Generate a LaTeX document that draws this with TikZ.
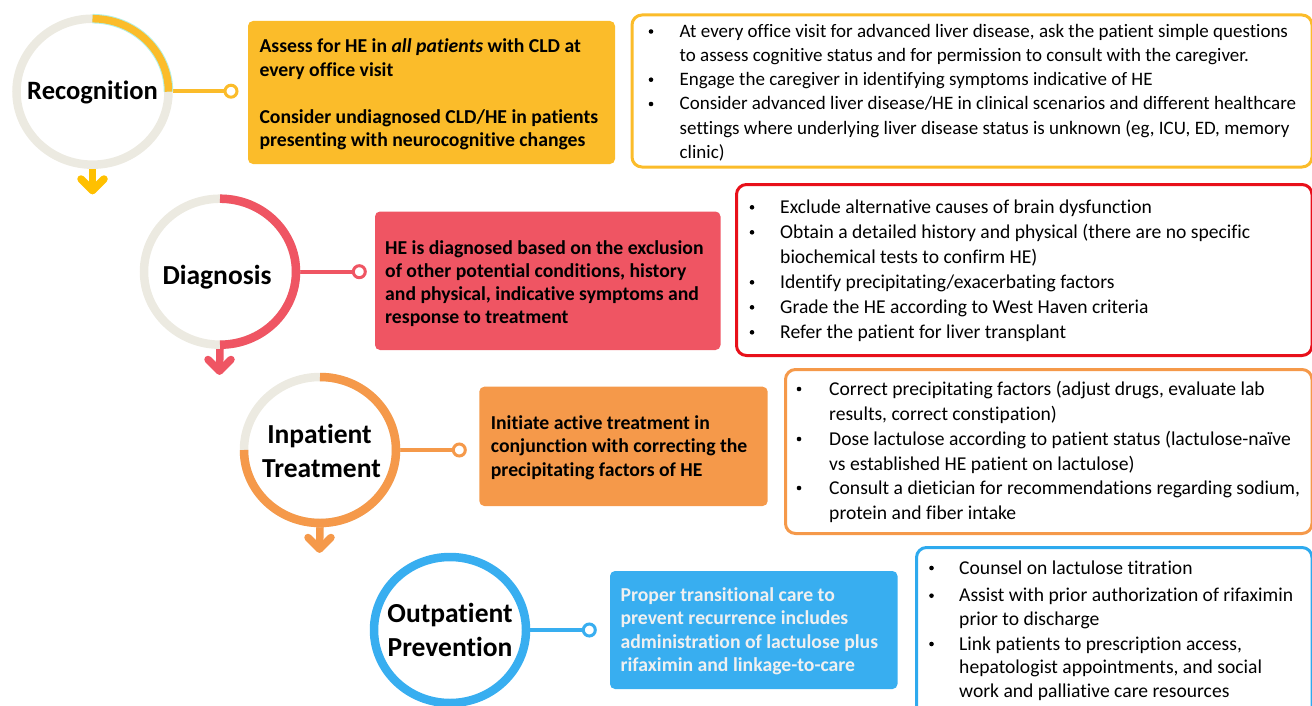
\documentclass[tikz,border=0pt]{standalone}
\usepackage{fontspec}
\setmainfont[Ligatures={NoCommon}]{Carlito}
\usetikzlibrary{shapes.geometric,backgrounds,calc}
\definecolor{cyel}{HTML}{FBBC2A}
\definecolor{cyelarr}{HTML}{FFC000}
\definecolor{cred}{HTML}{EF5563}
\definecolor{credline}{HTML}{E8101A}
\definecolor{corg}{HTML}{F5994A}
\definecolor{cblue}{HTML}{38AEF0}
\definecolor{cbline}{HTML}{2EAAEE}
\definecolor{cgray}{HTML}{ECEAE1}
\definecolor{cteal}{HTML}{B4F0E4}
\definecolor{ctxtw}{HTML}{F0F0F0}
\newcommand{\txtlines}[1]{\parbox[t]{640bp}{\raggedright #1}}
\begin{document}
\begin{tikzpicture}[x=1bp,y=-1bp,
  ringnode/.style={ellipse, draw=#1, line width=8.5bp, minimum width=152bp, minimum height=146bp, inner sep=0pt},
  ringlabel/.style={font=\fontsize{27.5bp}{34bp}\selectfont\bfseries, inner sep=0pt, anchor=base},
  hub/.style={circle, draw=#1, fill=white, line width=3bp, minimum size=12bp, inner sep=0pt},
  link/.style={draw=#1, line width=4bp},
  downarrow/.style={draw=#1, line width=7.5bp, line cap=round, line join=round},
  fillbox/.style={fill=#1, rounded corners=5bp, inner sep=0pt, outer sep=0pt, anchor=north west},
  outbox/.style={draw=#1, line width=3bp, rounded corners=10bp, inner sep=0pt, outer sep=0pt, anchor=north west},
  boldtxt/.style={font=\fontsize{19.7bp}{23.5bp}\selectfont\bfseries, inner sep=0pt, anchor=base west},
  bultxt/.style={font=\fontsize{19.6bp}{#1}\selectfont, inner sep=0pt, anchor=base west},
  bulmark/.style={circle, fill=black, minimum size=4.6bp, inner sep=0pt}
]
\useasboundingbox (0,0) rectangle (1312,705);
\clip (0,0) rectangle (1312,705);

% ---------- rings ----------
\node[ringnode=cgray] (rec) at (92.5,91.7) {};
\draw[cteal, line width=9.5bp] ($(rec.center)+(0,-73)$) arc[start angle=90, end angle=0, x radius=76bp, y radius=73bp];
\draw[cyel, line width=7.5bp] ($(rec.center)+(0,-73)$) arc[start angle=90, end angle=0, x radius=76bp, y radius=73bp];
\node[ringnode=cgray] (dia) at (220,271.7) {};
\draw[cred, line width=8.5bp] ($(dia.center)+(0,-73)$) arc[start angle=90, end angle=-90, x radius=76bp, y radius=73bp];
\node[ringnode=cgray] (inp) at (320,450) {};
\draw[corg, line width=8.5bp] ($(inp.center)+(0,-73)$) arc[start angle=90, end angle=-180, x radius=76bp, y radius=73bp];
\node[ringnode=cblue] (outp) at (450,630) {};

% ring labels
\node[ringlabel, font=\fontsize{26.5bp}{34bp}\selectfont\bfseries] (rect) at (92.5,100) {Recognition};
\node[ringlabel] (diat) at (217,284) {Diagnosis};
\node[ringlabel] (inpt1) at (319.5,443.3) {Inpatient};
\node[ringlabel] (inpt2) at (321.5,477.3) {Treatment};
\node[ringlabel] (outt1) at (450,622.7) {Outpatient};
\node[ringlabel] (outt2) at (450,656.7) {Prevention};

% hubs
\node[hub=cyel] (rechub) at (231,91.2) {};
\node[hub=cred] (diahub) at (359.3,271.7) {};
\node[hub=corg] (inphub) at (459.3,450) {};
\node[hub=cblue] (outhub) at (589.3,630) {};

% arrow tips
\coordinate (rectip) at (92.5,190.5);
\coordinate (diatip) at (219.5,371);
\coordinate (inptip) at (319.5,549);

\begin{scope}[on background layer]
\draw[link=cyel] (rec.east |- rechub) -- (rechub.west);
\draw[link=cred] (dia.east) -- (diahub.west);
\draw[link=corg] (inp.east) -- (inphub.west);
\draw[link=cblue] (outp.east) -- (outhub.west);
\draw[downarrow=cyelarr] (rec.south) -- (rectip);
\draw[downarrow=cyelarr] ($(rectip)+(-11.5,-11.5)$) -- (rectip) -- ($(rectip)+(11.5,-11.5)$);
\draw[downarrow=cred] (dia.south) -- (diatip);
\draw[downarrow=cred] ($(diatip)+(-11.5,-11.5)$) -- (diatip) -- ($(diatip)+(11.5,-11.5)$);
\draw[downarrow=corg] (inp.south) -- (inptip);
\draw[downarrow=corg] ($(inptip)+(-11.5,-11.5)$) -- (inptip) -- ($(inptip)+(11.5,-11.5)$);
\end{scope}

% ---------- filled boxes ----------
\node[fillbox=cyel, minimum width=367bp, minimum height=143bp] (ybox) at (248,21) {};
\node[fillbox=cred, minimum width=345.5bp, minimum height=138.5bp] (rbox) at (375,211.5) {};
\node[fillbox=corg, minimum width=288.4bp, minimum height=119.3bp] (obox) at (479.3,386.7) {};
\node[fillbox=cblue, minimum width=287.5bp, minimum height=118bp] (bbox) at (610,571) {};

\node[boldtxt] (yt1) at (259.3,52.7) {\txtlines{Assess for HE in \textit{all patients} with CLD at\\every office visit}};
\node[boldtxt] (yt2) at (259.3,123.2) {\txtlines{Consider undiagnosed CLD/HE in patients\\presenting with neurocognitive changes}};
\node[boldtxt, font=\fontsize{19.7bp}{23bp}\selectfont\bfseries] (rt) at (385,254.3) {\txtlines{HE is diagnosed based on the exclusion\\of other potential conditions, history\\and physical, indicative symptoms and\\response to treatment}};
\node[boldtxt] (ot) at (490.7,429.3) {\txtlines{Initiate active treatment in\\conjunction with correcting the\\precipitating factors of HE}};
\node[boldtxt, text=ctxtw] (bt) at (620.4,601) {\txtlines{Proper transitional care to\\prevent recurrence includes\\administration of lactulose plus\\rifaximin and linkage-to-care}};

% ---------- outlined boxes ----------
\node[outbox=cyel, minimum width=680bp, minimum height=152bp] (yout) at (632,15) {};
\node[outbox=credline, minimum width=575.5bp, minimum height=171bp] (rout) at (736.5,184.5) {};
\node[outbox=corg, minimum width=526.5bp, minimum height=164bp] (oout) at (785.5,369.5) {};
\node[outbox=cbline, minimum width=395.5bp, minimum height=190bp] (bout) at (916.5,547.5) {};

% box 1 bullets
\node[bulmark] (yb1) at (651,31.5) {};
\node[bultxt=24bp, font=\fontsize{19bp}{24bp}\selectfont] (yi1) at (679.5,37.5) {\txtlines{At every office visit for advanced liver disease, ask the patient simple questions\\to assess cognitive status and for permission to consult with the caregiver.}};
\node[bulmark] (yb2) at (651,79.7) {};
\node[bultxt=24bp, font=\fontsize{19bp}{24bp}\selectfont] (yi2) at (679.5,85.7) {\txtlines{Engage the caregiver in identifying symptoms indicative of HE}};
\node[bulmark] (yb3) at (651,104) {};
\node[bultxt=24bp, font=\fontsize{19bp}{24bp}\selectfont] (yi3) at (679.5,110) {\txtlines{Consider advanced liver disease/HE in clinical scenarios and different healthcare\\settings where underlying liver disease status is unknown (eg, ICU, ED, memory\\clinic)}};

% box 2 bullets
\node[bulmark] (rb1) at (752,207.3) {};
\node[bultxt=25bp] (ri1) at (780,213.3) {\txtlines{Exclude alternative causes of brain dysfunction}};
\node[bulmark] (rb2) at (752,232.3) {};
\node[bultxt=25bp] (ri2) at (780,238.3) {\txtlines{Obtain a detailed history and physical (there are no specific\\biochemical tests to confirm HE)}};
\node[bulmark] (rb3) at (752,282.3) {};
\node[bultxt=25bp] (ri3) at (780,288.3) {\txtlines{Identify precipitating/exacerbating factors}};
\node[bulmark] (rb4) at (752,307.3) {};
\node[bultxt=25bp] (ri4) at (780,313.3) {\txtlines{Grade the HE according to West Haven criteria}};
\node[bulmark] (rb5) at (752,332.3) {};
\node[bultxt=25bp] (ri5) at (780,338.3) {\txtlines{Refer the patient for liver transplant}};

% box 3 bullets
\node[bulmark] (ob1) at (799,389) {};
\node[bultxt=25bp] (oi1) at (829,395) {\txtlines{Correct precipitating factors (adjust drugs, evaluate lab\\results, correct constipation)}};
\node[bulmark] (ob2) at (799,439) {};
\node[bultxt=25bp] (oi2) at (829,445) {\txtlines{Dose lactulose according to patient status (lactulose-naïve\\vs established HE patient on lactulose)}};
\node[bulmark] (ob3) at (799,488) {};
\node[bultxt=25bp] (oi3) at (829,494) {\txtlines{Consult a dietician for recommendations regarding sodium,\\protein and fiber intake}};

% box 4 bullets
\node[bulmark] (bb1) at (931.5,568) {};
\node[bultxt=23.7bp] (bi1) at (959,574) {\txtlines{Counsel on lactulose titration}};
\node[bulmark] (bb2) at (931.5,595.7) {};
\node[bultxt=23.7bp] (bi2) at (959,601.7) {\txtlines{Assist with prior authorization of rifaximin\\prior to discharge}};
\node[bulmark] (bb3) at (931.5,644) {};
\node[bultxt=23.7bp] (bi3) at (959,650) {\txtlines{Link patients to prescription access,\\hepatologist appointments, and social\\work and palliative care resources}};
\end{tikzpicture}
\end{document}
